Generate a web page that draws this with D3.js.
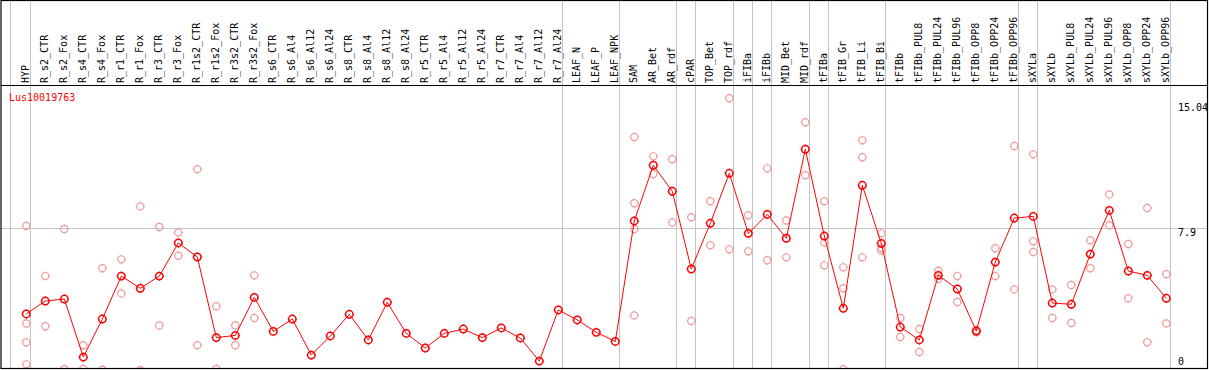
<!DOCTYPE html>
<html>
<head>
<meta charset="utf-8">
<script src="https://cdn.jsdelivr.net/npm/d3@7"></script>
<style>
html,body{margin:0;padding:0;background:#fff;}
svg{display:block;}
text{font-family:"DejaVu Sans Mono","Liberation Mono",monospace;font-size:10px;}
</style>
</head>
<body>
<svg id="chart" width="1209" height="370"></svg>
<script>
const geneName = "Lus10019763";
const categories = ["HYP","R_s2_CTR","R_s2_Fox","R_s4_CTR","R_s4_Fox","R_r1_CTR","R_r1_Fox","R_r3_CTR","R_r3_Fox","R_r1s2_CTR","R_r1s2_Fox","R_r3s2_CTR","R_r3s2_Fox","R_s6_CTR","R_s6_Al4","R_s6_Al12","R_s6_Al24","R_s8_CTR","R_s8_Al4","R_s8_Al12","R_s8_Al24","R_r5_CTR","R_r5_Al4","R_r5_Al12","R_r5_Al24","R_r7_CTR","R_r7_Al4","R_r7_Al12","R_r7_Al24","LEAF_N","LEAF_P","LEAF_NPK","SAM","AR_Bet","AR_rdf","cPAR","TOP_Bet","TOP_rdf","iFIBa","iFIBb","MID_Bet","MID_rdf","tFIBa","tFIB_Gr","tFIB_Li","tFIB_Bi","tFIBb","tFIBb_PUL8","tFIBb_PUL24","tFIBb_PUL96","tFIBb_OPP8","tFIBb_OPP24","tFIBb_OPP96","sXYLa","sXYLb","sXYLb_PUL8","sXYLb_PUL24","sXYLb_PUL96","sXYLb_OPP8","sXYLb_OPP24","sXYLb_OPP96"];
const means = [3.19,3.90,4.01,0.82,2.91,5.27,4.60,5.27,7.09,6.32,
  1.89,2.01,4.10,2.23,2.91,0.93,1.98,3.17,1.76,3.83,
  2.12,1.32,2.12,2.36,1.89,2.42,1.87,0.60,3.41,2.86,
  2.18,1.68,8.30,11.36,9.93,5.66,8.17,10.92,7.62,8.66,
  7.35,12.24,7.47,3.50,10.26,7.07,2.47,1.76,5.31,4.56,
  2.25,6.04,8.46,8.55,3.79,3.72,6.48,8.88,5.55,5.31,
  4.05];
const replicates = [
  [8.02,2.67,1.63,0.42],[5.27,2.51],[7.86,0.15],[1.47,0.17],[5.70,0.12],
  [6.19,4.32],[9.10,0.10],[7.97,2.56],[7.67,6.39],[11.14,1.47],
  [3.61,0.17],[2.56,1.47],[5.31,2.97],[],[],
  [],[],[],[],[],
  [],[],[],[],[],
  [],[],[],[],[],
  [],[],[12.91,9.27,7.86,3.11],[11.85,10.88],[11.69,8.22],
  [8.50,2.80],[9.38,6.96],[15.04,6.74],[8.61,6.63],[11.19,6.14],
  [8.33,6.30],[13.72,10.81],[9.38,7.11,5.86],[5.75,4.60,0.15],[12.73,11.80,6.30],
  [7.62,6.80,6.67],[2.97,1.92],[2.36,1.10],[5.57,5.11],[5.27,3.85],
  [2.18,2.30],[6.80,5.27],[12.42,4.54],[11.96,7.18,6.59],[4.54,2.97],
  [4.78,2.69],[7.24,5.70],[9.76,8.06],[7.03,4.05],[9.01,1.63],
  [5.37,2.67]
];
const tickValues = [0, 7.9, 15.04];
const tickLabels = ["0", "7.9", "15.04"];
const groupEnds = ["HYP","R_r7_Al24","LEAF_NPK","AR_rdf","cPAR","TOP_rdf","iFIBa","iFIBb","MID_rdf","tFIBa","tFIB_Bi","tFIBb_OPP96","sXYLa","sXYLb_OPP96"];

const frameL = 1, frameR = 1207.5, frameT = 0.5, frameB = 368.5, headerY = 85.5;

const svg = d3.select("#chart");
const x = d3.scalePoint().domain(categories).range([26.3, 26.3 + 19 * (categories.length - 1)]);
const y = d3.scaleLinear().domain([0, 15.04]).range([372, 98.3]);

svg.append("defs").append("clipPath").attr("id","plotclip")
  .append("rect").attr("x", frameL).attr("y", headerY).attr("width", frameR - frameL).attr("height", frameB - headerY);

// horizontal gridline at middle tick
svg.append("g").selectAll("line").data(tickValues.filter(v => v > 0 && v < 15.04)).join("line")
  .attr("x1", frameL).attr("x2", frameR)
  .attr("y1", d => Math.round(y(d)) + 0.5).attr("y2", d => Math.round(y(d)) + 0.5)
  .attr("stroke", "#c4c4c4").attr("stroke-width", 1);

// vertical separators
const sepX = [x(categories[0]) - 16].concat(groupEnds.map(c => x(c) + 4));
svg.append("g").selectAll("line").data(sepX).join("line")
  .attr("x1", d => Math.round(d) + 0.5).attr("x2", d => Math.round(d) + 0.5)
  .attr("y1", frameT).attr("y2", frameB)
  .attr("stroke", "#c4c4c4").attr("stroke-width", 1);

const plot = svg.append("g").attr("clip-path", "url(#plotclip)");

function marker(sel, r) {
  sel.append("circle").attr("r", r).attr("fill", "none");
  sel.append("path").attr("d", `M0,${-r-1}V${-r}M0,${r}V${r+1}M${-r-1},0H${-r}M${r},0H${r+1}`)
    .attr("fill","none").attr("stroke-width", 0.9);
}

// replicate points
const repData = [];
replicates.forEach((arr, i) => arr.forEach(v => repData.push({c: categories[i], v})));
plot.append("g").attr("stroke", "#ef9a9a").attr("stroke-width", 1.2)
  .selectAll("g").data(repData).join("g")
  .attr("transform", d => `translate(${x(d.c)},${y(d.v)})`)
  .each(function(){ marker(d3.select(this), 3.6); });

// mean line
const line = d3.line().x((d, i) => x(categories[i])).y(d => y(d));
plot.append("path").datum(means).attr("d", line)
  .attr("fill", "none").attr("stroke", "#ff0000").attr("stroke-width", 1);

// mean points
plot.append("g").attr("stroke", "#ff0000").attr("stroke-width", 1.5)
  .selectAll("g").data(means).join("g")
  .attr("transform", (d, i) => `translate(${x(categories[i])},${y(d)})`)
  .each(function(){ marker(d3.select(this), 3.7); });

// frame
svg.append("rect").attr("x", frameL).attr("y", frameT).attr("width", frameR - frameL).attr("height", frameB - frameT)
  .attr("fill", "none").attr("stroke", "#000").attr("stroke-width", 1.2);
svg.append("line").attr("x1", frameL).attr("x2", frameR).attr("y1", headerY).attr("y2", headerY)
  .attr("stroke", "#000").attr("stroke-width", 1.2);

// category labels (rotated)
svg.append("g").selectAll("text").data(categories).join("text")
  .attr("transform", d => `translate(${Math.round(x(d)) + 3},83) rotate(-90)`)
  .attr("fill", "#000").text(d => d);

// gene name
svg.append("text").attr("x", 9).attr("y", 101).attr("fill", "#ff0000").text(geneName);

// value axis labels
svg.append("g").selectAll("text").data(tickValues).join("text")
  .attr("x", 1178)
  .attr("y", d => Math.max(111, Math.min(365, y(d) + 8)))
  .attr("fill", "#000")
  .text((d, i) => tickLabels[i]);
</script>
</body>
</html>
